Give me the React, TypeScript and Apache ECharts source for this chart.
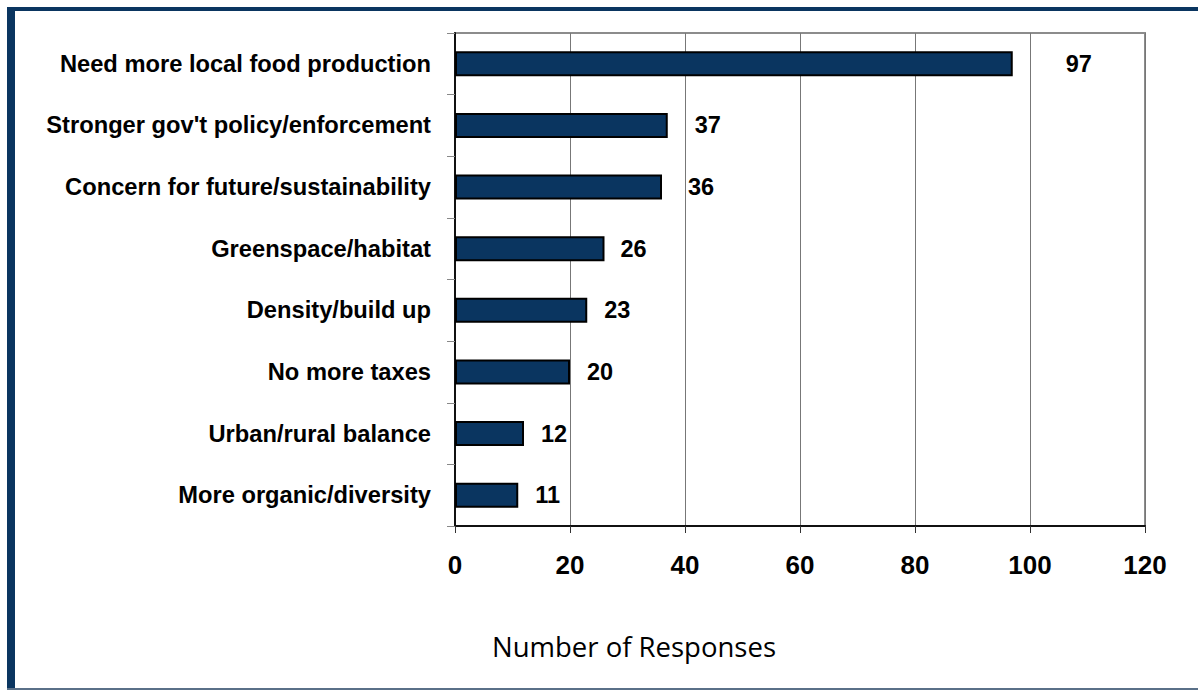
import React, { useEffect, useRef } from "react";
import * as echarts from "echarts";

const categories = [
  "Need more local food production",
  "Stronger gov't policy/enforcement",
  "Concern for future/sustainability",
  "Greenspace/habitat",
  "Density/build up",
  "No more taxes",
  "Urban/rural balance",
  "More organic/diversity",
];
const responses = [97, 37, 36, 26, 23, 20, 12, 11];
const labelGaps = [53, 27, 26, 16, 17, 17, 17, 17];
const xTicks = { min: 0, max: 120, interval: 20 };
const axisTitle = "Number of Responses";

export default function App() {
  const ref = useRef<HTMLDivElement>(null);
  useEffect(() => {
    document.body.style.margin = "0";
    const chart = echarts.init(ref.current!, null, { renderer: "svg" });
    const navy = "#0a3560";
    const sans = "Liberation Sans, Arial, sans-serif";
    chart.setOption({
      animation: false,
      backgroundColor: "#ffffff",
      grid: { left: 455, top: 33, right: 53, bottom: 164, show: true, borderColor: "#8c8c8c", borderWidth: 2, backgroundColor: "transparent" },
      xAxis: {
        type: "value",
        min: xTicks.min,
        max: xTicks.max,
        interval: xTicks.interval,
        axisLine: { show: true, lineStyle: { color: "#111", width: 2 } },
        axisTick: { show: true, length: 7, lineStyle: { color: "#333" } },
        splitLine: { show: true, lineStyle: { color: "#777", width: 1 } },
        axisLabel: { color: "#000", fontFamily: sans, fontWeight: "bold", fontSize: 26, margin: 26 },
      },
      yAxis: {
        type: "category",
        inverse: true,
        data: categories,
        axisLine: { show: true, lineStyle: { color: "#111", width: 2 } },
        axisTick: { show: true, length: 8, lineStyle: { color: "#888" } },
        axisLabel: { color: "#000", fontFamily: sans, fontWeight: "bold", fontSize: 23.7, margin: 24 },
      },
      series: [
        {
          type: "bar",
          barWidth: 25,
          data: responses.map((v, i) => ({
            value: v,
            label: { distance: labelGaps[i] },
          })),
          itemStyle: { color: navy, borderColor: "#000", borderWidth: 2 },
          label: {
            show: true,
            position: "right",
            color: "#000",
            fontFamily: sans,
            fontWeight: "bold",
            fontSize: 23.5,
          },
        },
      ],
      graphic: [
        { type: "rect", shape: { x: 7, y: 7, width: 1191, height: 4 }, style: { fill: navy } },
        { type: "rect", shape: { x: 7, y: 7, width: 8, height: 683 }, style: { fill: navy } },
        { type: "rect", shape: { x: 7, y: 688, width: 1191, height: 2 }, style: { fill: "#5a7088" } },
        {
          type: "text",
          x: 634,
          y: 646,
          style: {
            text: axisTitle,
            fill: "#000",
            font: "27.5px 'Open Sans', 'Noto Sans', sans-serif",
            textAlign: "center",
            textVerticalAlign: "middle",
          },
        },
      ],
    });
    return () => chart.dispose();
  }, []);
  return <div ref={ref} style={{ width: 1198, height: 690 }} />;
}
